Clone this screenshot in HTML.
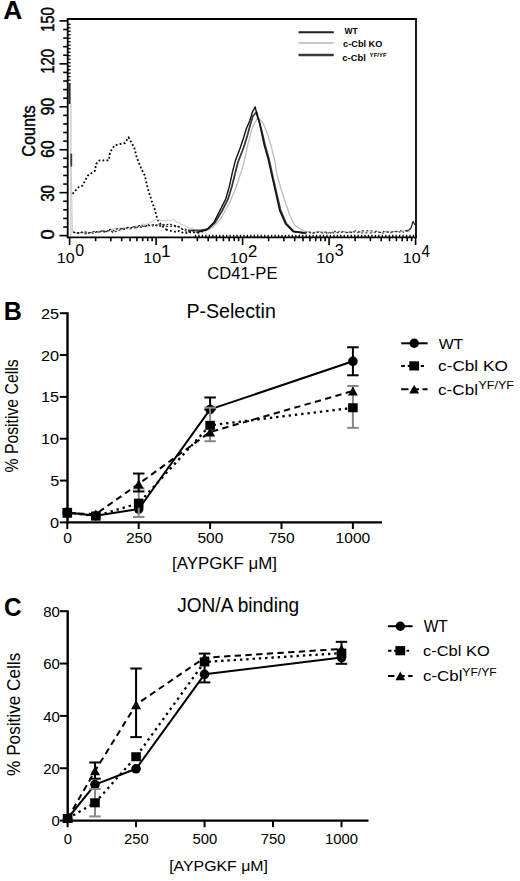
<!DOCTYPE html>
<html><head><meta charset="utf-8"><style>
html,body{margin:0;padding:0;background:#fff;}
svg{display:block;}
text{font-family:"Liberation Sans",sans-serif;}
</style></head><body>
<svg width="520" height="881" viewBox="0 0 520 881">
<rect width="520" height="881" fill="#fff"/>
<text transform="translate(3.14,19.20) scale(1.0197,1)" font-size="25.87" font-weight="bold" fill="#000">A</text>
<polyline points="72.5,193.8 78.8,187.0 82.3,185.8 88.0,175.4 95.0,170.8 96.2,163.8 99.6,160.4 108.8,160.4 110.0,152.3 114.6,145.4 119.2,144.2 125.0,143.0 128.5,137.3 134.3,147.7 136.6,157.0 141.2,168.5 144.7,175.4 148.0,189.3 151.6,200.8 155.0,210.0 157.4,219.3 161.0,225.0 166.0,229.4" fill="none" stroke="#000" stroke-width="1.8" stroke-linejoin="round" stroke-dasharray="1.8 2.2"/>
<polyline points="166.0,229.6 168.2,230.3 170.4,230.8 172.6,231.6 174.8,231.6 177.0,232.3 179.2,230.8 181.4,232.0 183.6,233.2 185.8,232.9 188.0,233.5 190.2,232.1 192.4,232.9 194.6,232.3 196.8,232.8 199.0,232.7 201.2,231.4 203.4,231.7 205.6,231.6" fill="none" stroke="#000" stroke-width="1.7" stroke-linejoin="round" stroke-dasharray="1.8 2.4"/>
<polyline points="70.9,236.0 70.9,104.0 71.2,104.0" fill="none" stroke="#c8c8c8" stroke-width="1.3" stroke-linejoin="round" />
<polyline points="71.2,166.0 72.5,232.0" fill="none" stroke="#d0d0d0" stroke-width="1.1" stroke-linejoin="round" />
<polyline points="73.0,232.0 75.0,232.5 77.0,233.4 79.0,232.8 81.0,232.9 83.0,233.0 85.0,232.0 87.0,232.6 89.0,232.7 91.0,232.9 93.0,231.3 95.0,231.6 97.0,230.9 99.0,232.1 101.0,231.6 103.0,230.0 105.0,231.6 107.0,231.3 109.0,230.4 111.0,230.1 113.0,228.9 115.0,228.4 117.0,229.1 119.0,227.9 121.0,227.9 123.0,227.8 125.0,227.1 127.0,227.6 129.0,227.2 131.0,227.7 133.0,226.7 135.0,226.6 137.0,226.0 139.0,226.0 141.0,225.1 143.0,224.0 145.0,224.7 147.0,224.0 149.0,223.0 151.0,222.1 153.0,220.6 155.0,219.8 157.0,219.6 159.0,219.4 161.0,220.9 163.0,220.3 165.0,220.9 167.0,219.7 169.0,220.6 171.0,220.5 173.0,219.4 175.0,220.5 177.0,222.5 179.0,222.5 181.0,224.6 183.0,224.6 185.0,225.1 187.0,227.1 189.0,228.2 191.0,228.0 193.0,228.4 195.0,229.7 197.0,231.1 199.0,230.9 201.0,229.8 203.0,230.3 205.0,230.2" fill="none" stroke="#d2d2d2" stroke-width="1.1" stroke-linejoin="round" />
<polyline points="205.0,231.0 212.3,227.7 220.0,220.0 229.6,202.7 235.0,190.0 239.2,177.7 243.5,164.6 248.0,143.8 252.7,126.5 258.0,117.5 263.0,123.0 267.7,134.6 271.2,146.2 274.6,160.0 277.0,175.0 280.6,187.3 285.4,202.7 290.2,216.2 295.0,225.8 305.0,231.5 310.0,232.0" fill="none" stroke="#bdbdbd" stroke-width="1.3" stroke-linejoin="round" />
<polyline points="310.0,232.0 312.5,232.2 315.0,232.2 317.5,231.4 320.0,231.2 322.5,231.7 325.0,231.6 327.5,232.4 330.0,232.2 332.5,232.0 335.0,232.0 337.5,232.1 340.0,231.3 342.5,231.7 345.0,231.3 347.5,232.5 350.0,231.1 352.5,232.3 355.0,231.1 357.5,232.1 360.0,231.5 362.5,231.6 365.0,232.3 367.5,230.9 370.0,231.0 372.5,232.4 375.0,231.7 377.5,231.0 380.0,232.4 382.5,232.4 385.0,231.0 387.5,231.5 390.0,231.0 392.5,231.3 395.0,231.8 397.5,231.0 400.0,231.9 402.5,230.8 405.0,231.0 407.5,232.0 410.0,231.3" fill="none" stroke="#d0d0d0" stroke-width="1.1" stroke-linejoin="round" />
<polyline points="71.3,153.6 71.3,166.5" fill="none" stroke="#3a3a3a" stroke-width="1.8" stroke-linejoin="round" />
<polyline points="73.0,231.8 75.2,233.0 77.4,233.0 79.6,232.7 81.8,232.2 84.0,233.6 86.2,233.6 88.4,232.8 90.6,232.6 92.8,231.9 95.0,231.2 97.2,231.9 99.4,232.2 101.6,230.9 103.8,232.4 106.0,231.0 108.2,230.9 110.4,230.3 112.6,232.3 114.8,231.5 117.0,231.4 119.2,230.4 121.4,228.7 123.6,228.9 125.8,228.8 128.0,227.6 130.2,229.0 132.4,227.4 134.6,226.6 136.8,227.8 139.0,226.0 141.2,227.4 143.4,226.1 145.6,226.1 147.8,225.5 150.0,225.6 152.2,224.8 154.4,224.4 156.6,226.0 158.8,224.5 161.0,225.7 163.2,224.6 165.4,226.4 167.6,226.4 169.8,226.2 172.0,226.4 174.2,226.1 176.4,227.0 178.6,226.4 180.8,228.0 183.0,229.5 185.2,228.9 187.4,230.8 189.6,231.0" fill="none" stroke="#444" stroke-width="1.3" stroke-linejoin="round" stroke-dasharray="2.5 1.6"/>
<polyline points="188.0,230.4 200.8,230.4 208.0,229.0 215.0,222.5 222.0,211.0 228.0,199.0 232.0,186.0 235.2,173.0 238.0,162.0 243.5,148.0 247.5,135.0 250.5,124.0 253.0,116.0 256.5,112.0 258.5,119.0 262.0,132.0 265.0,145.0 268.8,158.5 272.6,175.8 276.5,193.0 280.5,210.0 286.5,224.0 294.0,231.5 305.0,233.0" fill="none" stroke="#3a3a3a" stroke-width="1.8" stroke-linejoin="round" />
<polyline points="305.0,233.9 307.3,232.2 309.6,231.9 311.9,233.8 314.2,232.1 316.5,231.9 318.8,232.9 321.1,232.2 323.4,233.3 325.7,231.9 328.0,233.3 330.3,231.9 332.6,232.4 334.9,233.0 337.2,232.5 339.5,232.9 341.8,232.4 344.1,231.2 346.4,232.9 348.7,232.3 351.0,231.8 353.3,231.6 355.6,233.0 357.9,232.5 360.2,233.2 362.5,232.9 364.8,233.3 367.1,232.6 369.4,232.9 371.7,232.7 374.0,232.0 376.3,233.3 378.6,232.0 380.9,232.9 383.2,233.2 385.5,232.5 387.8,231.5 390.1,232.8 392.4,232.5 394.7,231.5 397.0,231.1 399.3,232.1 401.6,230.9 403.9,232.5 406.2,231.4 408.5,231.2" fill="none" stroke="#555" stroke-width="1.2" stroke-linejoin="round" stroke-dasharray="2 2.4"/>
<polyline points="73.0,232.3 75.2,232.4 77.4,232.9 79.6,233.5 81.8,232.1 84.0,231.9 86.2,232.1 88.4,233.3 90.6,231.8 92.8,233.2 95.0,232.9 97.2,231.3 99.4,232.0 101.6,231.5 103.8,231.1 106.0,232.2 108.2,229.8 110.4,229.3 112.6,231.2 114.8,229.6 117.0,228.8 119.2,228.9 121.4,228.7 123.6,229.8 125.8,227.7 128.0,227.3 130.2,227.8 132.4,227.4 134.6,228.0 136.8,227.3 139.0,225.8 141.2,225.2 143.4,226.5 145.6,226.6 147.8,224.1 150.0,225.6 152.2,226.0 154.4,225.6 156.6,224.7 158.8,226.2 161.0,226.0 163.2,224.6 165.4,225.6 167.6,224.4 169.8,223.9 172.0,225.0 174.2,225.4 176.4,226.0 178.6,227.1 180.8,228.2 183.0,229.6 185.2,230.7 187.4,231.9 189.6,231.9 191.8,230.9 194.0,230.8 196.2,232.1 198.4,232.0" fill="none" stroke="#111" stroke-width="1.1" stroke-linejoin="round" stroke-dasharray="2.2 1.8"/>
<polyline points="198.0,232.0 206.5,230.0 214.2,221.9 220.0,210.4 225.8,198.8 229.6,185.4 232.5,171.9 235.4,160.4 240.0,148.5 243.5,138.0 246.3,128.8 249.8,120.8 252.7,111.3 255.2,106.9 257.5,117.0 259.6,123.0 261.3,131.5 264.2,145.0 268.0,158.5 271.9,175.8 275.8,193.0 279.6,210.4 285.4,223.8 293.0,231.5 305.0,233.0" fill="none" stroke="#111" stroke-width="1.4" stroke-linejoin="round" />
<polyline points="305.0,232.2 307.3,232.4 309.6,232.5 311.9,233.7 314.2,232.8 316.5,233.2 318.8,231.9 321.1,232.7 323.4,233.3 325.7,232.6 328.0,233.4 330.3,233.3 332.6,232.2 334.9,231.3 337.2,232.8 339.5,231.4 341.8,231.1 344.1,232.5 346.4,232.6 348.7,232.5 351.0,232.7 353.3,231.1 355.6,230.8 357.9,230.8 360.2,232.5 362.5,230.8 364.8,230.9 367.1,230.7 369.4,230.8 371.7,230.8 374.0,231.5 376.3,231.2 378.6,231.5 380.9,232.8 383.2,231.3 385.5,232.6 387.8,232.3 390.1,231.9 392.4,231.8 394.7,232.1 397.0,231.6 399.3,230.7 401.6,230.8 403.9,230.5" fill="none" stroke="#222" stroke-width="1.1" stroke-linejoin="round" stroke-dasharray="1.8 2.6"/>
<polyline points="405.0,231.0 409.0,230.0 411.0,228.0 413.0,221.5 415.0,225.0" fill="none" stroke="#222" stroke-width="1.2" stroke-linejoin="round" />
<line x1="67.70" y1="18.20" x2="67.70" y2="238.10" stroke="#000" stroke-width="1.8" />
<line x1="66.80" y1="19.00" x2="416.90" y2="19.00" stroke="#000" stroke-width="1.8" />
<line x1="416.00" y1="19.00" x2="416.00" y2="237.30" stroke="#000" stroke-width="1.8" />
<line x1="66.80" y1="237.30" x2="416.90" y2="237.30" stroke="#000" stroke-width="1.8" />
<line x1="59.50" y1="235.60" x2="67.70" y2="235.60" stroke="#000" stroke-width="1.6" />
<line x1="63.20" y1="227.01" x2="67.70" y2="227.01" stroke="#000" stroke-width="1.6" />
<line x1="63.20" y1="218.42" x2="67.70" y2="218.42" stroke="#000" stroke-width="1.6" />
<line x1="63.20" y1="209.84" x2="67.70" y2="209.84" stroke="#000" stroke-width="1.6" />
<line x1="63.20" y1="201.25" x2="67.70" y2="201.25" stroke="#000" stroke-width="1.6" />
<line x1="59.50" y1="192.66" x2="67.70" y2="192.66" stroke="#000" stroke-width="1.6" />
<line x1="63.20" y1="184.07" x2="67.70" y2="184.07" stroke="#000" stroke-width="1.6" />
<line x1="63.20" y1="175.48" x2="67.70" y2="175.48" stroke="#000" stroke-width="1.6" />
<line x1="63.20" y1="166.90" x2="67.70" y2="166.90" stroke="#000" stroke-width="1.6" />
<line x1="63.20" y1="158.31" x2="67.70" y2="158.31" stroke="#000" stroke-width="1.6" />
<line x1="59.50" y1="149.72" x2="67.70" y2="149.72" stroke="#000" stroke-width="1.6" />
<line x1="63.20" y1="141.13" x2="67.70" y2="141.13" stroke="#000" stroke-width="1.6" />
<line x1="63.20" y1="132.54" x2="67.70" y2="132.54" stroke="#000" stroke-width="1.6" />
<line x1="63.20" y1="123.96" x2="67.70" y2="123.96" stroke="#000" stroke-width="1.6" />
<line x1="63.20" y1="115.37" x2="67.70" y2="115.37" stroke="#000" stroke-width="1.6" />
<line x1="59.50" y1="106.78" x2="67.70" y2="106.78" stroke="#000" stroke-width="1.6" />
<line x1="63.20" y1="98.19" x2="67.70" y2="98.19" stroke="#000" stroke-width="1.6" />
<line x1="63.20" y1="89.60" x2="67.70" y2="89.60" stroke="#000" stroke-width="1.6" />
<line x1="63.20" y1="81.02" x2="67.70" y2="81.02" stroke="#000" stroke-width="1.6" />
<line x1="63.20" y1="72.43" x2="67.70" y2="72.43" stroke="#000" stroke-width="1.6" />
<line x1="59.50" y1="63.84" x2="67.70" y2="63.84" stroke="#000" stroke-width="1.6" />
<line x1="63.20" y1="55.25" x2="67.70" y2="55.25" stroke="#000" stroke-width="1.6" />
<line x1="63.20" y1="46.66" x2="67.70" y2="46.66" stroke="#000" stroke-width="1.6" />
<line x1="63.20" y1="38.08" x2="67.70" y2="38.08" stroke="#000" stroke-width="1.6" />
<line x1="63.20" y1="29.49" x2="67.70" y2="29.49" stroke="#000" stroke-width="1.6" />
<line x1="59.50" y1="20.90" x2="67.70" y2="20.90" stroke="#000" stroke-width="1.6" />
<line x1="67.70" y1="24.30" x2="70.60" y2="24.30" stroke="#000" stroke-width="1.3" />
<line x1="67.70" y1="27.79" x2="70.60" y2="27.79" stroke="#000" stroke-width="1.3" />
<line x1="67.70" y1="31.28" x2="70.60" y2="31.28" stroke="#000" stroke-width="1.3" />
<line x1="67.70" y1="34.77" x2="70.60" y2="34.77" stroke="#000" stroke-width="1.3" />
<line x1="67.70" y1="38.26" x2="70.60" y2="38.26" stroke="#000" stroke-width="1.3" />
<line x1="67.70" y1="41.75" x2="70.60" y2="41.75" stroke="#000" stroke-width="1.3" />
<line x1="67.70" y1="45.24" x2="70.60" y2="45.24" stroke="#000" stroke-width="1.3" />
<line x1="67.70" y1="48.73" x2="70.60" y2="48.73" stroke="#000" stroke-width="1.3" />
<line x1="67.70" y1="52.22" x2="70.60" y2="52.22" stroke="#000" stroke-width="1.3" />
<line x1="67.70" y1="55.71" x2="70.60" y2="55.71" stroke="#000" stroke-width="1.3" />
<line x1="67.70" y1="59.20" x2="70.60" y2="59.20" stroke="#000" stroke-width="1.3" />
<line x1="67.70" y1="62.69" x2="70.60" y2="62.69" stroke="#000" stroke-width="1.3" />
<line x1="67.70" y1="66.18" x2="70.60" y2="66.18" stroke="#000" stroke-width="1.3" />
<line x1="67.70" y1="69.67" x2="70.60" y2="69.67" stroke="#000" stroke-width="1.3" />
<line x1="67.70" y1="73.16" x2="70.60" y2="73.16" stroke="#000" stroke-width="1.3" />
<line x1="67.70" y1="76.65" x2="70.60" y2="76.65" stroke="#000" stroke-width="1.3" />
<line x1="67.70" y1="80.14" x2="70.60" y2="80.14" stroke="#000" stroke-width="1.3" />
<rect x="68.4" y="83" width="2.2" height="21" fill="#2a2a2a"/>
<line x1="69.60" y1="237.30" x2="69.60" y2="245.00" stroke="#000" stroke-width="1.6" />
<line x1="95.64" y1="237.30" x2="95.64" y2="241.20" stroke="#000" stroke-width="1.6" />
<line x1="110.87" y1="237.30" x2="110.87" y2="241.20" stroke="#000" stroke-width="1.6" />
<line x1="121.68" y1="237.30" x2="121.68" y2="241.20" stroke="#000" stroke-width="1.6" />
<line x1="130.06" y1="237.30" x2="130.06" y2="241.20" stroke="#000" stroke-width="1.6" />
<line x1="136.91" y1="237.30" x2="136.91" y2="241.20" stroke="#000" stroke-width="1.6" />
<line x1="142.70" y1="237.30" x2="142.70" y2="241.20" stroke="#000" stroke-width="1.6" />
<line x1="147.72" y1="237.30" x2="147.72" y2="241.20" stroke="#000" stroke-width="1.6" />
<line x1="152.14" y1="237.30" x2="152.14" y2="241.20" stroke="#000" stroke-width="1.6" />
<line x1="156.10" y1="237.30" x2="156.10" y2="245.00" stroke="#000" stroke-width="1.6" />
<line x1="182.14" y1="237.30" x2="182.14" y2="241.20" stroke="#000" stroke-width="1.6" />
<line x1="197.37" y1="237.30" x2="197.37" y2="241.20" stroke="#000" stroke-width="1.6" />
<line x1="208.18" y1="237.30" x2="208.18" y2="241.20" stroke="#000" stroke-width="1.6" />
<line x1="216.56" y1="237.30" x2="216.56" y2="241.20" stroke="#000" stroke-width="1.6" />
<line x1="223.41" y1="237.30" x2="223.41" y2="241.20" stroke="#000" stroke-width="1.6" />
<line x1="229.20" y1="237.30" x2="229.20" y2="241.20" stroke="#000" stroke-width="1.6" />
<line x1="234.22" y1="237.30" x2="234.22" y2="241.20" stroke="#000" stroke-width="1.6" />
<line x1="238.64" y1="237.30" x2="238.64" y2="241.20" stroke="#000" stroke-width="1.6" />
<line x1="242.60" y1="237.30" x2="242.60" y2="245.00" stroke="#000" stroke-width="1.6" />
<line x1="268.64" y1="237.30" x2="268.64" y2="241.20" stroke="#000" stroke-width="1.6" />
<line x1="283.87" y1="237.30" x2="283.87" y2="241.20" stroke="#000" stroke-width="1.6" />
<line x1="294.68" y1="237.30" x2="294.68" y2="241.20" stroke="#000" stroke-width="1.6" />
<line x1="303.06" y1="237.30" x2="303.06" y2="241.20" stroke="#000" stroke-width="1.6" />
<line x1="309.91" y1="237.30" x2="309.91" y2="241.20" stroke="#000" stroke-width="1.6" />
<line x1="315.70" y1="237.30" x2="315.70" y2="241.20" stroke="#000" stroke-width="1.6" />
<line x1="320.72" y1="237.30" x2="320.72" y2="241.20" stroke="#000" stroke-width="1.6" />
<line x1="325.14" y1="237.30" x2="325.14" y2="241.20" stroke="#000" stroke-width="1.6" />
<line x1="329.10" y1="237.30" x2="329.10" y2="245.00" stroke="#000" stroke-width="1.6" />
<line x1="355.14" y1="237.30" x2="355.14" y2="241.20" stroke="#000" stroke-width="1.6" />
<line x1="370.37" y1="237.30" x2="370.37" y2="241.20" stroke="#000" stroke-width="1.6" />
<line x1="381.18" y1="237.30" x2="381.18" y2="241.20" stroke="#000" stroke-width="1.6" />
<line x1="389.56" y1="237.30" x2="389.56" y2="241.20" stroke="#000" stroke-width="1.6" />
<line x1="396.41" y1="237.30" x2="396.41" y2="241.20" stroke="#000" stroke-width="1.6" />
<line x1="402.20" y1="237.30" x2="402.20" y2="241.20" stroke="#000" stroke-width="1.6" />
<line x1="407.22" y1="237.30" x2="407.22" y2="241.20" stroke="#000" stroke-width="1.6" />
<line x1="411.64" y1="237.30" x2="411.64" y2="241.20" stroke="#000" stroke-width="1.6" />
<line x1="415.60" y1="237.30" x2="415.60" y2="245.00" stroke="#000" stroke-width="1.6" />
<line x1="195.50" y1="237.30" x2="195.50" y2="234.80" stroke="#000" stroke-width="1.3" />
<line x1="198.96" y1="237.30" x2="198.96" y2="234.80" stroke="#000" stroke-width="1.3" />
<line x1="202.42" y1="237.30" x2="202.42" y2="234.80" stroke="#000" stroke-width="1.3" />
<line x1="205.88" y1="237.30" x2="205.88" y2="234.80" stroke="#000" stroke-width="1.3" />
<line x1="209.34" y1="237.30" x2="209.34" y2="234.80" stroke="#000" stroke-width="1.3" />
<line x1="212.80" y1="237.30" x2="212.80" y2="234.80" stroke="#000" stroke-width="1.3" />
<line x1="216.26" y1="237.30" x2="216.26" y2="234.80" stroke="#000" stroke-width="1.3" />
<line x1="219.72" y1="237.30" x2="219.72" y2="234.80" stroke="#000" stroke-width="1.3" />
<line x1="223.18" y1="237.30" x2="223.18" y2="234.80" stroke="#000" stroke-width="1.3" />
<line x1="226.64" y1="237.30" x2="226.64" y2="234.80" stroke="#000" stroke-width="1.3" />
<line x1="230.10" y1="237.30" x2="230.10" y2="234.80" stroke="#000" stroke-width="1.3" />
<line x1="233.56" y1="237.30" x2="233.56" y2="234.80" stroke="#000" stroke-width="1.3" />
<line x1="237.02" y1="237.30" x2="237.02" y2="234.80" stroke="#000" stroke-width="1.3" />
<line x1="240.48" y1="237.30" x2="240.48" y2="234.80" stroke="#000" stroke-width="1.3" />
<line x1="243.94" y1="237.30" x2="243.94" y2="234.80" stroke="#000" stroke-width="1.3" />
<line x1="247.40" y1="237.30" x2="247.40" y2="234.80" stroke="#000" stroke-width="1.3" />
<line x1="250.86" y1="237.30" x2="250.86" y2="234.80" stroke="#000" stroke-width="1.3" />
<line x1="254.32" y1="237.30" x2="254.32" y2="234.80" stroke="#000" stroke-width="1.3" />
<line x1="257.78" y1="237.30" x2="257.78" y2="234.80" stroke="#000" stroke-width="1.3" />
<line x1="261.24" y1="237.30" x2="261.24" y2="234.80" stroke="#000" stroke-width="1.3" />
<line x1="264.70" y1="237.30" x2="264.70" y2="234.80" stroke="#000" stroke-width="1.3" />
<line x1="268.16" y1="237.30" x2="268.16" y2="234.80" stroke="#000" stroke-width="1.3" />
<line x1="271.62" y1="237.30" x2="271.62" y2="234.80" stroke="#000" stroke-width="1.3" />
<line x1="275.08" y1="237.30" x2="275.08" y2="234.80" stroke="#000" stroke-width="1.3" />
<line x1="278.54" y1="237.30" x2="278.54" y2="234.80" stroke="#000" stroke-width="1.3" />
<line x1="282.00" y1="237.30" x2="282.00" y2="234.80" stroke="#000" stroke-width="1.3" />
<line x1="285.46" y1="237.30" x2="285.46" y2="234.80" stroke="#000" stroke-width="1.3" />
<line x1="288.92" y1="237.30" x2="288.92" y2="234.80" stroke="#000" stroke-width="1.3" />
<line x1="292.38" y1="237.30" x2="292.38" y2="234.80" stroke="#000" stroke-width="1.3" />
<line x1="295.84" y1="237.30" x2="295.84" y2="234.80" stroke="#000" stroke-width="1.3" />
<line x1="299.30" y1="237.30" x2="299.30" y2="234.80" stroke="#000" stroke-width="1.3" />
<line x1="302.76" y1="237.30" x2="302.76" y2="234.80" stroke="#000" stroke-width="1.3" />
<line x1="306.22" y1="237.30" x2="306.22" y2="234.80" stroke="#000" stroke-width="1.3" />
<line x1="309.68" y1="237.30" x2="309.68" y2="234.80" stroke="#000" stroke-width="1.3" />
<line x1="313.14" y1="237.30" x2="313.14" y2="234.80" stroke="#000" stroke-width="1.3" />
<line x1="316.60" y1="237.30" x2="316.60" y2="234.80" stroke="#000" stroke-width="1.3" />
<line x1="320.06" y1="237.30" x2="320.06" y2="234.80" stroke="#000" stroke-width="1.3" />
<line x1="323.52" y1="237.30" x2="323.52" y2="234.80" stroke="#000" stroke-width="1.3" />
<line x1="326.98" y1="237.30" x2="326.98" y2="234.80" stroke="#000" stroke-width="1.3" />
<line x1="330.44" y1="237.30" x2="330.44" y2="234.80" stroke="#000" stroke-width="1.3" />
<line x1="333.90" y1="237.30" x2="333.90" y2="234.80" stroke="#000" stroke-width="1.3" />
<line x1="337.36" y1="237.30" x2="337.36" y2="234.80" stroke="#000" stroke-width="1.3" />
<line x1="340.82" y1="237.30" x2="340.82" y2="234.80" stroke="#000" stroke-width="1.3" />
<line x1="344.28" y1="237.30" x2="344.28" y2="234.80" stroke="#000" stroke-width="1.3" />
<line x1="347.74" y1="237.30" x2="347.74" y2="234.80" stroke="#000" stroke-width="1.3" />
<line x1="351.20" y1="237.30" x2="351.20" y2="234.80" stroke="#000" stroke-width="1.3" />
<line x1="354.66" y1="237.30" x2="354.66" y2="234.80" stroke="#000" stroke-width="1.3" />
<line x1="358.12" y1="237.30" x2="358.12" y2="234.80" stroke="#000" stroke-width="1.3" />
<line x1="361.58" y1="237.30" x2="361.58" y2="234.80" stroke="#000" stroke-width="1.3" />
<line x1="365.04" y1="237.30" x2="365.04" y2="234.80" stroke="#000" stroke-width="1.3" />
<line x1="368.50" y1="237.30" x2="368.50" y2="234.80" stroke="#000" stroke-width="1.3" />
<line x1="371.96" y1="237.30" x2="371.96" y2="234.80" stroke="#000" stroke-width="1.3" />
<line x1="375.42" y1="237.30" x2="375.42" y2="234.80" stroke="#000" stroke-width="1.3" />
<line x1="378.88" y1="237.30" x2="378.88" y2="234.80" stroke="#000" stroke-width="1.3" />
<line x1="382.34" y1="237.30" x2="382.34" y2="234.80" stroke="#000" stroke-width="1.3" />
<line x1="385.80" y1="237.30" x2="385.80" y2="234.80" stroke="#000" stroke-width="1.3" />
<line x1="389.26" y1="237.30" x2="389.26" y2="234.80" stroke="#000" stroke-width="1.3" />
<line x1="392.72" y1="237.30" x2="392.72" y2="234.80" stroke="#000" stroke-width="1.3" />
<line x1="396.18" y1="237.30" x2="396.18" y2="234.80" stroke="#000" stroke-width="1.3" />
<line x1="399.64" y1="237.30" x2="399.64" y2="234.80" stroke="#000" stroke-width="1.3" />
<line x1="403.10" y1="237.30" x2="403.10" y2="234.80" stroke="#000" stroke-width="1.3" />
<line x1="406.56" y1="237.30" x2="406.56" y2="234.80" stroke="#000" stroke-width="1.3" />
<line x1="410.02" y1="237.30" x2="410.02" y2="234.80" stroke="#000" stroke-width="1.3" />
<line x1="413.48" y1="237.30" x2="413.48" y2="234.80" stroke="#000" stroke-width="1.3" />
<text transform="translate(53.82,239.47) rotate(-90) scale(1.0046,1)" font-size="18.22" font-weight="normal" fill="#000" stroke="#000" stroke-width="0.45">0</text>
<text transform="translate(53.82,201.83) rotate(-90) scale(0.8351,1)" font-size="18.22" font-weight="normal" fill="#000" stroke="#000" stroke-width="0.45">30</text>
<text transform="translate(53.82,157.68) rotate(-90) scale(0.8481,1)" font-size="18.22" font-weight="normal" fill="#000" stroke="#000" stroke-width="0.45">60</text>
<text transform="translate(53.82,115.13) rotate(-90) scale(0.8502,1)" font-size="18.22" font-weight="normal" fill="#000" stroke="#000" stroke-width="0.45">90</text>
<text transform="translate(53.82,73.84) rotate(-90) scale(0.8198,1)" font-size="18.22" font-weight="normal" fill="#000" stroke="#000" stroke-width="0.45">120</text>
<text transform="translate(53.82,32.04) rotate(-90) scale(0.8198,1)" font-size="18.22" font-weight="normal" fill="#000" stroke="#000" stroke-width="0.45">150</text>
<text transform="translate(35.12,156.72) rotate(-90) scale(0.9046,1)" font-size="17.94" font-weight="normal" fill="#000" stroke="#000" stroke-width="0.4">Counts</text>
<text transform="translate(56.78,263.36) scale(1.0924,1)" font-size="14.69" font-weight="normal" fill="#000">10</text>
<text transform="translate(75.18,256.35) scale(1.0141,1)" font-size="15.68" font-weight="normal" fill="#000">0</text>
<text transform="translate(143.28,263.36) scale(1.0924,1)" font-size="14.69" font-weight="normal" fill="#000">10</text>
<text transform="translate(160.96,256.50) scale(1.0925,1)" font-size="16.13" font-weight="normal" fill="#000">1</text>
<text transform="translate(229.78,263.36) scale(1.0924,1)" font-size="14.69" font-weight="normal" fill="#000">10</text>
<text transform="translate(247.96,256.50) scale(1.0494,1)" font-size="15.90" font-weight="normal" fill="#000">2</text>
<text transform="translate(316.28,263.36) scale(1.0924,1)" font-size="14.69" font-weight="normal" fill="#000">10</text>
<text transform="translate(334.69,256.35) scale(1.0224,1)" font-size="15.68" font-weight="normal" fill="#000">3</text>
<text transform="translate(402.78,263.36) scale(1.0924,1)" font-size="14.69" font-weight="normal" fill="#000">10</text>
<text transform="translate(421.45,256.50) scale(0.9348,1)" font-size="16.13" font-weight="normal" fill="#000">4</text>
<text transform="translate(207.25,279.45) scale(1.0626,1)" font-size="15.68" font-weight="normal" fill="#000">CD41-PE</text>
<line x1="298.50" y1="32.20" x2="333.80" y2="32.20" stroke="#222" stroke-width="2" />
<line x1="298.50" y1="43.10" x2="333.80" y2="43.10" stroke="#c8c8c8" stroke-width="2" />
<line x1="298.50" y1="55.00" x2="333.80" y2="55.00" stroke="#3a3a3a" stroke-width="2.6" />
<text transform="translate(344.39,33.90) scale(0.9900,1)" font-size="8.58" font-weight="bold" fill="#000">WT</text>
<text transform="translate(343.04,46.62) scale(1.0922,1)" font-size="8.44" font-weight="bold" fill="#000">c-Cbl KO</text>
<text transform="translate(342.33,61.22) scale(1.1333,1)" font-size="8.31" font-weight="bold" fill="#000">c-Cbl</text>
<text transform="translate(369.60,57.20) scale(1.2575,1)" font-size="4.83" font-weight="bold" fill="#000">YF/YF</text>
<text transform="translate(3.82,319.80) scale(0.9562,1)" font-size="26.24" font-weight="bold" fill="#000">B</text>
<line x1="67.50" y1="312.30" x2="67.50" y2="523.60" stroke="#000" stroke-width="2.4" />
<line x1="66.30" y1="522.40" x2="382.00" y2="522.40" stroke="#000" stroke-width="2.4" />
<line x1="59.80" y1="522.40" x2="67.50" y2="522.40" stroke="#000" stroke-width="2" />
<line x1="59.80" y1="480.56" x2="67.50" y2="480.56" stroke="#000" stroke-width="2" />
<line x1="59.80" y1="438.72" x2="67.50" y2="438.72" stroke="#000" stroke-width="2" />
<line x1="59.80" y1="396.88" x2="67.50" y2="396.88" stroke="#000" stroke-width="2" />
<line x1="59.80" y1="355.04" x2="67.50" y2="355.04" stroke="#000" stroke-width="2" />
<line x1="59.80" y1="313.20" x2="67.50" y2="313.20" stroke="#000" stroke-width="2" />
<line x1="67.30" y1="522.40" x2="67.30" y2="529.00" stroke="#000" stroke-width="2" />
<line x1="138.70" y1="522.40" x2="138.70" y2="529.00" stroke="#000" stroke-width="2" />
<line x1="210.10" y1="522.40" x2="210.10" y2="529.00" stroke="#000" stroke-width="2" />
<line x1="281.50" y1="522.40" x2="281.50" y2="529.00" stroke="#000" stroke-width="2" />
<line x1="352.90" y1="522.40" x2="352.90" y2="529.00" stroke="#000" stroke-width="2" />
<text transform="translate(50.08,528.00) scale(1.0768,1)" font-size="15.11" font-weight="normal" fill="#000">0</text>
<text transform="translate(50.13,486.16) scale(1.0768,1)" font-size="15.11" font-weight="normal" fill="#000">5</text>
<text transform="translate(41.03,444.32) scale(1.0768,1)" font-size="15.11" font-weight="normal" fill="#000">10</text>
<text transform="translate(41.08,402.48) scale(1.0768,1)" font-size="15.11" font-weight="normal" fill="#000">15</text>
<text transform="translate(41.03,360.64) scale(1.0768,1)" font-size="15.11" font-weight="normal" fill="#000">20</text>
<text transform="translate(41.08,318.80) scale(1.0768,1)" font-size="15.11" font-weight="normal" fill="#000">25</text>
<text transform="translate(63.28,543.46) scale(1.0900,1)" font-size="14.27" font-weight="normal" fill="#000">0</text>
<text transform="translate(125.94,543.46) scale(1.0900,1)" font-size="14.27" font-weight="normal" fill="#000">250</text>
<text transform="translate(197.42,543.46) scale(1.0900,1)" font-size="14.27" font-weight="normal" fill="#000">500</text>
<text transform="translate(268.73,543.46) scale(1.0900,1)" font-size="14.27" font-weight="normal" fill="#000">750</text>
<text transform="translate(335.62,543.46) scale(1.0900,1)" font-size="14.27" font-weight="normal" fill="#000">1000</text>
<polyline points="67.3,512.4 95.9,515.7 138.7,509.0 210.1,409.4 352.9,361.3" fill="none" stroke="#000" stroke-width="2" stroke-linejoin="round" />
<line x1="210.10" y1="397.47" x2="210.10" y2="409.43" stroke="#000" stroke-width="2" />
<line x1="204.35" y1="397.47" x2="215.85" y2="397.47" stroke="#000" stroke-width="2" />
<line x1="204.35" y1="409.43" x2="215.85" y2="409.43" stroke="#000" stroke-width="2" />
<line x1="352.90" y1="347.26" x2="352.90" y2="375.29" stroke="#000" stroke-width="2" />
<line x1="347.15" y1="347.26" x2="358.65" y2="347.26" stroke="#000" stroke-width="2" />
<line x1="347.15" y1="375.29" x2="358.65" y2="375.29" stroke="#000" stroke-width="2" />
<circle cx="67.30" cy="512.36" r="4.8" fill="#000"/>
<circle cx="95.86" cy="515.71" r="4.8" fill="#000"/>
<circle cx="138.70" cy="509.01" r="4.8" fill="#000"/>
<circle cx="210.10" cy="409.43" r="4.8" fill="#000"/>
<circle cx="352.90" cy="361.32" r="4.8" fill="#000"/>
<polyline points="67.3,512.4 95.9,516.1 138.7,503.2 210.1,425.3 352.9,407.8" fill="none" stroke="#000" stroke-width="2.3" stroke-linejoin="round" stroke-dasharray="2.4 3.9"/>
<line x1="138.70" y1="488.43" x2="138.70" y2="516.96" stroke="#888" stroke-width="2" />
<line x1="132.95" y1="488.43" x2="144.45" y2="488.43" stroke="#888" stroke-width="2" />
<line x1="132.95" y1="516.96" x2="144.45" y2="516.96" stroke="#888" stroke-width="2" />
<line x1="210.10" y1="407.76" x2="210.10" y2="441.23" stroke="#888" stroke-width="2" />
<line x1="204.35" y1="407.76" x2="215.85" y2="407.76" stroke="#888" stroke-width="2" />
<line x1="204.35" y1="441.23" x2="215.85" y2="441.23" stroke="#888" stroke-width="2" />
<line x1="352.90" y1="386.00" x2="352.90" y2="427.84" stroke="#888" stroke-width="2" />
<line x1="347.15" y1="386.00" x2="358.65" y2="386.00" stroke="#888" stroke-width="2" />
<line x1="347.15" y1="427.84" x2="358.65" y2="427.84" stroke="#888" stroke-width="2" />
<rect x="62.50" y="507.86" width="9.6" height="9.0" fill="#000"/>
<rect x="91.06" y="511.62" width="9.6" height="9.0" fill="#000"/>
<rect x="133.90" y="498.65" width="9.6" height="9.0" fill="#000"/>
<rect x="205.30" y="420.83" width="9.6" height="9.0" fill="#000"/>
<rect x="348.10" y="403.26" width="9.6" height="9.0" fill="#000"/>
<polyline points="67.3,513.2 95.9,514.0 138.7,483.9 210.1,432.0 352.9,391.0" fill="none" stroke="#000" stroke-width="2" stroke-linejoin="round" stroke-dasharray="6.3 4.4"/>
<line x1="138.70" y1="473.53" x2="138.70" y2="491.44" stroke="#000" stroke-width="2" />
<line x1="132.95" y1="473.53" x2="144.45" y2="473.53" stroke="#000" stroke-width="2" />
<line x1="132.95" y1="491.44" x2="144.45" y2="491.44" stroke="#000" stroke-width="2" />
<polygon points="62.30,517.70 72.30,517.70 67.30,508.70" fill="#000"/>
<polygon points="90.86,518.53 100.86,518.53 95.86,509.53" fill="#000"/>
<polygon points="133.70,488.41 143.70,488.41 138.70,479.41" fill="#000"/>
<polygon points="205.10,436.53 215.10,436.53 210.10,427.53" fill="#000"/>
<polygon points="347.90,395.52 357.90,395.52 352.90,386.52" fill="#000"/>
<text transform="translate(186.39,318.21) scale(1.0013,1)" font-size="19.61" font-weight="normal" fill="#000">P-Selectin</text>
<text transform="translate(172.00,569.23) scale(1.0701,1)" font-size="15.77" font-weight="normal" fill="#000">[AYPGKF μM]</text>
<text transform="translate(17.73,472.46) rotate(-90) scale(0.8915,1)" font-size="17.70" font-weight="normal" fill="#000">% Positive Cells</text>
<text transform="translate(3.90,615.54) scale(0.9110,1)" font-size="26.69" font-weight="bold" fill="#000">C</text>
<line x1="67.70" y1="610.30" x2="67.70" y2="821.80" stroke="#000" stroke-width="2.4" />
<line x1="66.50" y1="820.60" x2="368.50" y2="820.60" stroke="#000" stroke-width="2.4" />
<line x1="59.80" y1="820.60" x2="67.70" y2="820.60" stroke="#000" stroke-width="2" />
<line x1="59.80" y1="768.25" x2="67.70" y2="768.25" stroke="#000" stroke-width="2" />
<line x1="59.80" y1="715.90" x2="67.70" y2="715.90" stroke="#000" stroke-width="2" />
<line x1="59.80" y1="663.55" x2="67.70" y2="663.55" stroke="#000" stroke-width="2" />
<line x1="59.80" y1="611.20" x2="67.70" y2="611.20" stroke="#000" stroke-width="2" />
<line x1="67.60" y1="820.60" x2="67.60" y2="827.20" stroke="#000" stroke-width="2" />
<line x1="136.07" y1="820.60" x2="136.07" y2="827.20" stroke="#000" stroke-width="2" />
<line x1="204.55" y1="820.60" x2="204.55" y2="827.20" stroke="#000" stroke-width="2" />
<line x1="273.02" y1="820.60" x2="273.02" y2="827.20" stroke="#000" stroke-width="2" />
<line x1="341.50" y1="820.60" x2="341.50" y2="827.20" stroke="#000" stroke-width="2" />
<text transform="translate(51.47,826.40) scale(1.0280,1)" font-size="14.55" font-weight="normal" fill="#000">0</text>
<text transform="translate(43.15,774.05) scale(1.0280,1)" font-size="14.55" font-weight="normal" fill="#000">20</text>
<text transform="translate(43.15,721.70) scale(1.0280,1)" font-size="14.55" font-weight="normal" fill="#000">40</text>
<text transform="translate(43.15,669.35) scale(1.0280,1)" font-size="14.55" font-weight="normal" fill="#000">60</text>
<text transform="translate(43.15,617.00) scale(1.0280,1)" font-size="14.55" font-weight="normal" fill="#000">80</text>
<text transform="translate(63.77,843.75) scale(0.9911,1)" font-size="14.97" font-weight="normal" fill="#000">0</text>
<text transform="translate(123.91,843.75) scale(0.9911,1)" font-size="14.97" font-weight="normal" fill="#000">250</text>
<text transform="translate(192.46,843.75) scale(0.9911,1)" font-size="14.97" font-weight="normal" fill="#000">500</text>
<text transform="translate(260.86,843.75) scale(0.9911,1)" font-size="14.97" font-weight="normal" fill="#000">750</text>
<text transform="translate(325.02,843.75) scale(0.9911,1)" font-size="14.97" font-weight="normal" fill="#000">1000</text>
<polyline points="67.6,818.5 95.0,784.6 136.1,768.8 204.5,674.3 341.5,657.5" fill="none" stroke="#000" stroke-width="2" stroke-linejoin="round" />
<line x1="204.55" y1="653.60" x2="204.55" y2="682.40" stroke="#000" stroke-width="2" />
<line x1="198.80" y1="653.60" x2="210.30" y2="653.60" stroke="#000" stroke-width="2" />
<line x1="198.80" y1="682.40" x2="210.30" y2="682.40" stroke="#000" stroke-width="2" />
<line x1="341.50" y1="641.82" x2="341.50" y2="663.81" stroke="#000" stroke-width="2" />
<line x1="335.75" y1="641.82" x2="347.25" y2="641.82" stroke="#000" stroke-width="2" />
<line x1="335.75" y1="663.81" x2="347.25" y2="663.81" stroke="#000" stroke-width="2" />
<circle cx="67.60" cy="818.51" r="4.8" fill="#000"/>
<circle cx="94.99" cy="784.61" r="4.8" fill="#000"/>
<circle cx="136.07" cy="768.77" r="4.8" fill="#000"/>
<circle cx="204.55" cy="674.28" r="4.8" fill="#000"/>
<circle cx="341.50" cy="657.53" r="4.8" fill="#000"/>
<polyline points="67.6,818.5 95.0,802.8 136.1,756.7 204.5,662.0 341.5,653.1" fill="none" stroke="#000" stroke-width="2.3" stroke-linejoin="round" stroke-dasharray="2.4 3.9"/>
<line x1="94.99" y1="788.93" x2="94.99" y2="816.41" stroke="#888" stroke-width="2" />
<line x1="89.24" y1="788.93" x2="100.74" y2="788.93" stroke="#888" stroke-width="2" />
<line x1="89.24" y1="816.41" x2="100.74" y2="816.41" stroke="#888" stroke-width="2" />
<rect x="62.80" y="814.01" width="9.6" height="9.0" fill="#000"/>
<rect x="90.19" y="798.30" width="9.6" height="9.0" fill="#000"/>
<rect x="131.27" y="752.23" width="9.6" height="9.0" fill="#000"/>
<rect x="199.75" y="657.48" width="9.6" height="9.0" fill="#000"/>
<rect x="336.70" y="648.58" width="9.6" height="9.0" fill="#000"/>
<polyline points="67.6,818.5 95.0,770.9 136.1,704.6 204.5,657.8 341.5,648.9" fill="none" stroke="#000" stroke-width="2" stroke-linejoin="round" stroke-dasharray="6.3 4.4"/>
<line x1="94.99" y1="762.49" x2="94.99" y2="778.72" stroke="#000" stroke-width="2" />
<line x1="89.24" y1="762.49" x2="100.74" y2="762.49" stroke="#000" stroke-width="2" />
<line x1="89.24" y1="778.72" x2="100.74" y2="778.72" stroke="#000" stroke-width="2" />
<line x1="136.07" y1="668.52" x2="136.07" y2="737.10" stroke="#000" stroke-width="2" />
<line x1="130.32" y1="668.52" x2="141.82" y2="668.52" stroke="#000" stroke-width="2" />
<line x1="130.32" y1="737.10" x2="141.82" y2="737.10" stroke="#000" stroke-width="2" />
<polygon points="62.60,823.01 72.60,823.01 67.60,814.01" fill="#000"/>
<polygon points="89.99,775.37 99.99,775.37 94.99,766.37" fill="#000"/>
<polygon points="131.07,709.14 141.07,709.14 136.07,700.14" fill="#000"/>
<polygon points="199.55,662.29 209.55,662.29 204.55,653.29" fill="#000"/>
<polygon points="336.50,653.39 346.50,653.39 341.50,644.39" fill="#000"/>
<text transform="translate(177.20,612.36) scale(0.9570,1)" font-size="19.95" font-weight="normal" fill="#000">JON/A binding</text>
<text transform="translate(169.17,870.54) scale(1.0438,1)" font-size="15.23" font-weight="normal" fill="#000">[AYPGKF μM]</text>
<text transform="translate(20.03,775.91) rotate(-90) scale(0.9870,1)" font-size="17.43" font-weight="normal" fill="#000">% Positive Cells</text>
<line x1="401.20" y1="343.30" x2="427.60" y2="343.30" stroke="#000" stroke-width="2" />
<circle cx="414.20" cy="343.30" r="4.7" fill="#000"/>
<line x1="401.20" y1="365.90" x2="424.00" y2="365.90" stroke="#000" stroke-width="2" stroke-dasharray="3.7 2.83"/>
<rect x="409.30" y="361.30" width="9.8" height="9.2" fill="#000"/>
<line x1="401.20" y1="389.20" x2="427.60" y2="389.20" stroke="#000" stroke-width="2" stroke-dasharray="7.3 3.3"/>
<polygon points="409.30,393.60 419.10,393.60 414.20,384.80" fill="#000"/>
<text transform="translate(438.63,348.70) scale(1.0482,1)" font-size="15.12" font-weight="normal" fill="#000">WT</text>
<text transform="translate(438.07,371.46) scale(1.2143,1)" font-size="14.16" font-weight="normal" fill="#000">c-Cbl KO</text>
<text transform="translate(438.07,394.56) scale(1.1950,1)" font-size="14.30" font-weight="normal" fill="#000">c-Cbl</text>
<text transform="translate(478.52,389.49) scale(1.0946,1)" font-size="11.44" font-weight="normal" fill="#000">YF/YF</text>
<line x1="387.90" y1="626.20" x2="412.60" y2="626.20" stroke="#000" stroke-width="2" />
<circle cx="400.30" cy="626.20" r="4.7" fill="#000"/>
<line x1="387.90" y1="650.70" x2="409.10" y2="650.70" stroke="#000" stroke-width="2" stroke-dasharray="3.6 2.6"/>
<rect x="395.40" y="646.10" width="9.8" height="9.2" fill="#000"/>
<line x1="387.90" y1="675.90" x2="412.60" y2="675.90" stroke="#000" stroke-width="2" stroke-dasharray="6.6 3.55"/>
<polygon points="395.40,680.30 405.20,680.30 400.30,671.50" fill="#000"/>
<text transform="translate(423.63,631.60) scale(0.9835,1)" font-size="15.84" font-weight="normal" fill="#000">WT</text>
<text transform="translate(423.00,656.26) scale(1.1111,1)" font-size="14.84" font-weight="normal" fill="#000">c-Cbl KO</text>
<text transform="translate(422.98,680.85) scale(1.1016,1)" font-size="15.39" font-weight="normal" fill="#000">c-Cbl</text>
<text transform="translate(462.33,676.49) scale(1.0383,1)" font-size="11.71" font-weight="normal" fill="#000">YF/YF</text>
</svg>
</body></html>
